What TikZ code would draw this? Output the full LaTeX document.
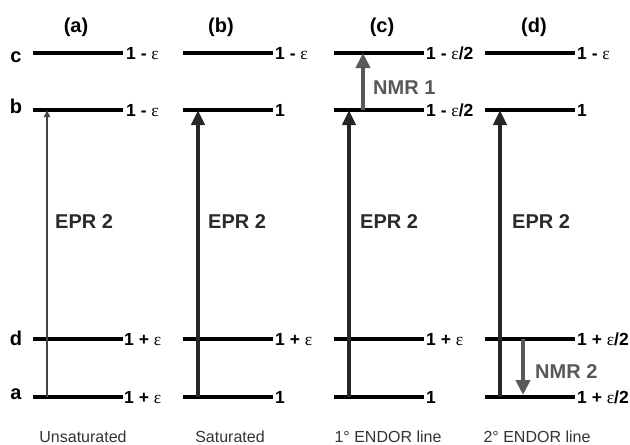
\documentclass[tikz,border=0pt]{standalone}
\usepackage{fontspec}
\setmainfont{Liberation Sans}
\newfontfamily\epsfont{Liberation Serif}
\usetikzlibrary{arrows.meta,calc}
\newcommand{\eps}{{\epsfont\mdseries ε}}
\definecolor{eprcol}{HTML}{262626}
\definecolor{thincol}{HTML}{444444}
\definecolor{nmrcol}{HTML}{585858}
\definecolor{txtcol}{HTML}{2A2A2A}
\definecolor{capcol}{HTML}{333333}
\begin{document}
\begin{tikzpicture}[x=1pt,y=-1pt,
  level/.style={line width=3.5pt, draw=black},
  val/.style={anchor=base west, inner sep=0pt, font=\fontsize{17.5}{21}\selectfont\bfseries, text=black},
  head/.style={anchor=center, inner sep=0pt, font=\fontsize{20}{24}\selectfont\bfseries, text=black},
  letter/.style={anchor=base, inner sep=0pt, font=\fontsize{20}{24}\selectfont\bfseries, text=black},
  tlabel/.style={anchor=west, inner sep=0pt, font=\fontsize{20}{24}\selectfont\bfseries, text=txtcol},
  nlabel/.style={anchor=west, inner sep=0pt, font=\fontsize{20}{24}\selectfont\bfseries, text=nmrcol},
  caption/.style={anchor=center, inner sep=0pt, font=\fontsize{16}{19}\selectfont, text=capcol},
  eprthin/.style={line width=1.8pt, draw=thincol, -{Triangle[width=6pt,length=7pt]}},
  eprthick/.style={line width=4.5pt, draw=eprcol, -{Triangle[width=13pt,length=15pt]}},
  nmr/.style={line width=4pt, draw=nmrcol, -{Triangle[width=14pt,length=15pt]}}
]
\useasboundingbox (0,0) rectangle (630,445);

% energy levels
\foreach \p/\x in {A/33,B/183,C/334,D/485} {
  \foreach \l/\y in {c/53,b/110,d/339,a/397} {
    \coordinate (\p\l L) at (\x,\y);
    \coordinate (\p\l R) at (\x+90,\y);
    \coordinate (\p\l E) at (\x+15,\y);
    \draw[level] (\p\l L) -- (\p\l R);
  }
}

% column headings
\node[head] (hA) at (76,27) {(a)};
\node[head] (hB) at (221,27) {(b)};
\node[head] (hC) at (382,27) {(c)};
\node[head] (hD) at (534,27) {(d)};

% level letters
\node[letter] (lc) at (16,62) {c};
\node[letter] (lb) at (16,113) {b};
\node[letter] (ld) at (16,345) {d};
\node[letter] (la) at (16,399) {a};

% populations
\node[val] (vAc) at ($(AcR)+(3,6)$) {1 - \eps};
\node[val] (vAb) at ($(AbR)+(3,6)$) {1 - \eps};
\node[val] (vAd) at ($(AdR)+(1,6)$) {1 + \eps};
\node[val] (vAa) at ($(AaR)+(1,6)$) {1 + \eps};

\node[val] (vBc) at ($(BcR)+(2,6)$) {1 - \eps};
\node[val] (vBb) at ($(BbR)+(2,6)$) {1};
\node[val] (vBd) at ($(BdR)+(2,6)$) {1 + \eps};
\node[val] (vBa) at ($(BaR)+(2,6)$) {1};

\node[val] (vCc) at ($(CcR)+(2,6)$) {1 - \eps/2};
\node[val] (vCb) at ($(CbR)+(2,6)$) {1 - \eps/2};
\node[val] (vCd) at ($(CdR)+(2,6)$) {1 + \eps};
\node[val] (vCa) at ($(CaR)+(2,6)$) {1};

\node[val] (vDc) at ($(DcR)+(2,6)$) {1 - \eps};
\node[val] (vDb) at ($(DbR)+(2,6)$) {1};
\node[val] (vDd) at ($(DdR)+(2,6)$) {1 + \eps/2};
\node[val] (vDa) at ($(DaR)+(2,6)$) {1 + \eps/2};

% EPR transitions
\draw[eprthin] ($(AaE)+(-1,0)$) -- ($(AbE)+(-1,0)$);
\draw[eprthick] (BaE) -- (BbE);
\draw[eprthick] (CaE) -- (CbE);
\draw[eprthick] (DaE) -- (DbE);

\node[tlabel] (eA) at (55,222) {EPR 2};
\node[tlabel] (eB) at (208,222) {EPR 2};
\node[tlabel] (eC) at (360,222) {EPR 2};
\node[tlabel] (eD) at (512,222) {EPR 2};

% NMR transitions
\coordinate (n1s) at ($(CbL)+(29,0)$);
\coordinate (n1e) at ($(CcL)+(29,0)$);
\draw[nmr] (n1s) -- (n1e);
\node[nlabel] (nm1) at (373,88) {NMR 1};

\coordinate (n2s) at ($(DdL)+(38,0)$);
\coordinate (n2e) at ($(DaL)+(38,-2)$);
\draw[nmr] (n2s) -- (n2e);
\node[nlabel] (nm2) at (535,372) {NMR 2};

% captions
\node[caption] (cA) at (83,437) {Unsaturated};
\node[caption] (cB) at (230,437) {Saturated};
\node[caption] (cC) at (388,437) {1° ENDOR line};
\node[caption] (cD) at (537,437) {2° ENDOR line};
\end{tikzpicture}
\end{document}
